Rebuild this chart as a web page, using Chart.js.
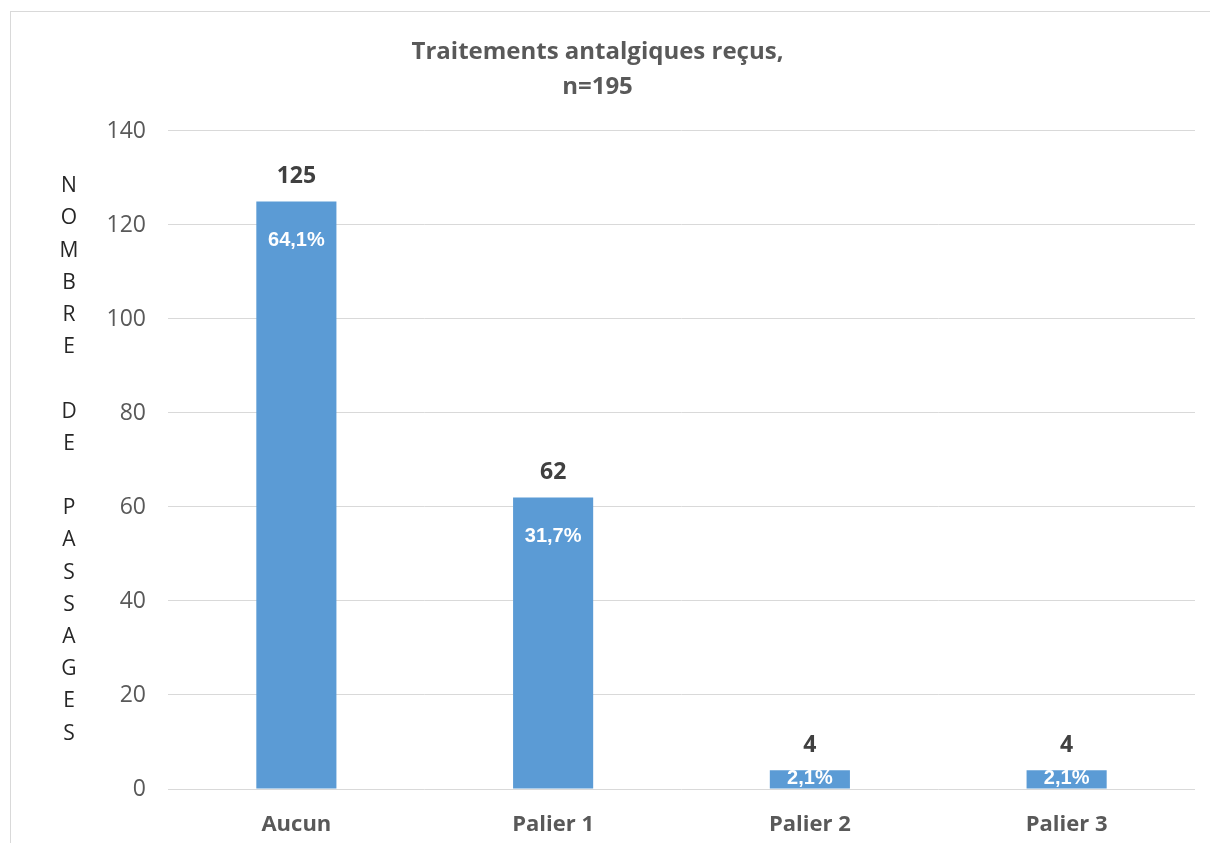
<!DOCTYPE html>
<html>
<head>
<meta charset="utf-8">
<script src="https://cdn.jsdelivr.net/npm/chart.js@4/dist/chart.umd.min.js"></script>
<style>
  html, body { margin: 0; padding: 0; background: #fff; overflow: hidden; }
  #wrap { position: absolute; left: 0; top: 0; width: 1210px; height: 843px; }
</style>
</head>
<body>
<div id="wrap"><canvas id="painChart" width="1210" height="843"></canvas></div>
<script>
// data
const categories = ['Aucun', 'Palier 1', 'Palier 2', 'Palier 3'];
const counts = [125, 62, 4, 4];
const percentLabels = ['64,1%', '31,7%', '2,1%', '2,1%'];
const titleLines = ['Traitements antalgiques reçus,', 'n=195'];
const yTitleLetters = ['N', 'O', 'M', 'B', 'R', 'E', '', 'D', 'E', '', 'P', 'A', 'S', 'S', 'A', 'G', 'E', 'S'];
const yMax = 140;
const yStep = 20;

const GREY = '#595959';

// frame, stacked axis title and bar labels
const decorPlugin = {
    id: 'decor',
    beforeDraw(chart) {
        const c = chart.ctx;
        c.save();
        c.fillStyle = '#fff';
        c.fillRect(0, 0, chart.width, chart.height);
        c.strokeStyle = '#d9d9d9';
        c.lineWidth = 1;
        c.strokeRect(10.5, 11.5, 1400, 1000);
        c.restore();
    },
    afterDatasetsDraw(chart) {
        const c = chart.ctx;
        const area = chart.chartArea;
        c.save();
        // vertical letters
        c.font = '21px "Open Sans"';
        c.fillStyle = '#262626';
        c.textAlign = 'center';
        c.textBaseline = 'middle';
        const lh = 32.2;
        const mid = (area.top + area.bottom) / 2;
        const start = mid - lh * (yTitleLetters.length - 1) / 2;
        yTitleLetters.forEach((l, i) => c.fillText(l, 69, start + i * lh));

        // values and percents
        const meta = chart.getDatasetMeta(0);
        meta.data.forEach((bar, i) => {
            c.font = 'bold 23px "Open Sans"';
            c.fillStyle = '#404040';
            c.fillText(String(counts[i]), bar.x, bar.y - 25);
            c.font = 'bold 20px "Liberation Sans"';
            c.fillStyle = '#fff';
            const py = Math.min(bar.y + 39, (bar.y + bar.base) / 2 - 1);
            c.fillText(percentLabels[i], bar.x, py);
        });
        c.restore();
    }
};

const ctx = document.getElementById('painChart').getContext('2d');
const painChart = new Chart(ctx, {
    type: 'bar',
    data: {
        labels: categories,
        datasets: [{
            data: counts,
            backgroundColor: '#5b9bd5',
            barPercentage: 0.312,
            categoryPercentage: 1
        }]
    },
    plugins: [decorPlugin],
    options: {
        responsive: false,
        animation: false,
        layout: { padding: { left: 0, right: 15, top: 0, bottom: 0 } },
        plugins: {
            legend: { display: false },
            tooltip: { enabled: false },
            title: {
                display: true,
                text: titleLines,
                color: GREY,
                font: { family: '"Open Sans"', size: 24, weight: 'bold', lineHeight: 1.458 },
                padding: { top: 35, bottom: 26 }
            }
        },
        scales: {
            x: {
                grid: { display: false, drawTicks: false },
                border: { display: false },
                ticks: {
                    color: GREY,
                    font: { family: '"Open Sans"', size: 22, weight: 'bold' },
                    padding: 23
                },
                afterFit(scale) { scale.height = 54; }
            },
            y: {
                min: 0,
                max: yMax,
                grid: { color: '#d9d9d9', drawTicks: false },
                border: { display: false },
                ticks: {
                    stepSize: yStep,
                    color: GREY,
                    font: { family: '"Open Sans"', size: 23 },
                    padding: 22
                },
                afterFit(scale) { scale.width = 168; }
            }
        }
    }
});
</script>
</body>
</html>
